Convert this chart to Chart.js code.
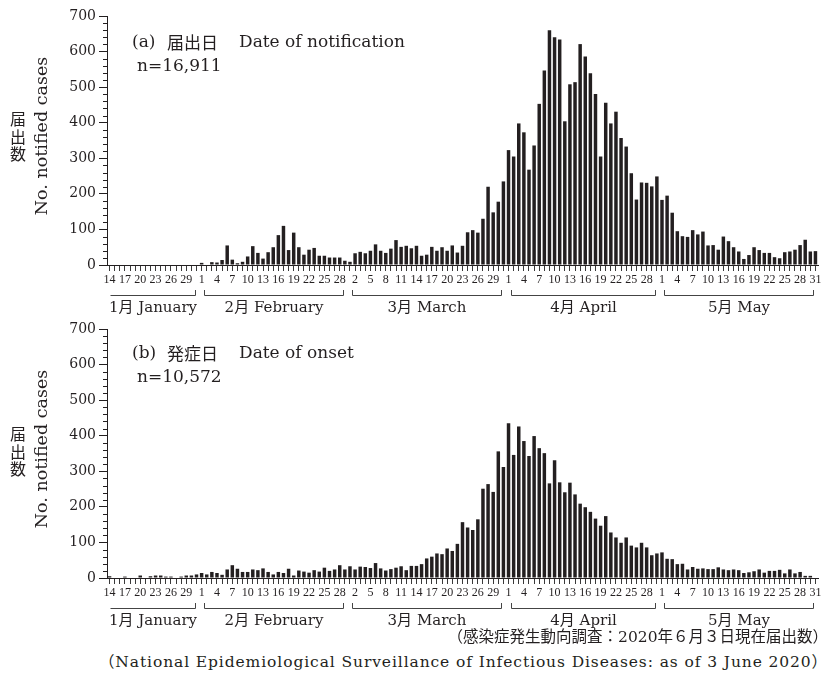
<!DOCTYPE html>
<html><head><meta charset="utf-8">
<script src="https://cdn.jsdelivr.net/npm/chart.js@4.4.1/dist/chart.umd.min.js"></script>
<style>
html,body{margin:0;padding:0;background:#fff;width:822px;height:674px;overflow:hidden;}
.wrap{position:absolute;left:0;width:822px;height:320px;}
#wa{top:0}
#wb{top:313px}
.foot{position:absolute;right:-6px;white-space:nowrap;color:#231f20;font-family:"DejaVu Serif","Noto Sans CJK JP",serif;font-size:15.5px;line-height:20px;}
#f1{top:627px}
#f2{top:652px;letter-spacing:0.9px;}
.yc{position:absolute;left:9px;width:18px;height:18px;text-align:center;color:#231f20;font-family:"Noto Sans CJK JP",sans-serif;font-size:16px;line-height:18px;}
</style></head><body>
<div class="wrap" id="wa"><canvas id="ca" width="822" height="320"></canvas></div>
<div class="wrap" id="wb"><canvas id="cb" width="822" height="320"></canvas></div>
<span class="yc" style="top:109px">届</span>
<span class="yc" style="top:126.5px">出</span>
<span class="yc" style="top:144px">数</span>
<span class="yc" style="top:424px">届</span>
<span class="yc" style="top:441.5px">出</span>
<span class="yc" style="top:459px">数</span>
<div class="foot" id="f1">（感染症発生動向調査：2020年６月３日現在届出数）</div>
<div class="foot" id="f2">（National Epidemiological Surveillance of Infectious Diseases: as of 3 June 2020）</div>
<script>
// ---- categories (day of month) ----
const daysJan = [14,15,16,17,18,19,20,21,22,23,24,25,26,27,28,29,30,31];
const daysFeb = [1,2,3,4,5,6,7,8,9,10,11,12,13,14,15,16,17,18,19,20,21,22,23,24,25,26,27,28,29];
const daysMar = [1,2,3,4,5,6,7,8,9,10,11,12,13,14,15,16,17,18,19,20,21,22,23,24,25,26,27,28,29,30,31];
const daysApr = [1,2,3,4,5,6,7,8,9,10,11,12,13,14,15,16,17,18,19,20,21,22,23,24,25,26,27,28,29,30];
const daysMay = [1,2,3,4,5,6,7,8,9,10,11,12,13,14,15,16,17,18,19,20,21,22,23,24,25,26,27,28,29,30,31];
const monthNames = ['1月 January','2月 February','3月 March','4月 April','5月 May'];

// ---- (a) date of notification ----
const notifJan = [0,0,0,0,0,0,0,0,0,0,0,0,0,0,0,0,0,0];
const notifFeb = [6,0,8,7,14,55,15,5,9,24,53,34,18,36,50,84,110,42,91,50,29,43,48,26,26,21,21,21,12];
const notifMar = [9,33,37,33,40,58,40,34,46,70,51,54,47,54,26,29,51,40,50,40,55,35,54,92,98,91,130,220,148,178,235];
const notifApr = [323,305,398,373,268,336,453,547,660,640,634,404,508,514,621,586,539,481,305,456,398,431,357,333,258,184,232,231,221,249];
const notifMay = [183,195,147,95,81,79,98,86,94,55,56,43,80,67,50,38,17,28,50,42,34,34,22,19,36,38,43,56,71,38,39];

// ---- (b) date of onset ----
const onsetJan = [5,0,0,4,0,0,7,0,5,7,7,4,4,0,4,7,7,10];
const onsetFeb = [14,10,17,14,9,24,36,26,17,17,24,22,27,17,10,17,14,26,7,21,18,15,22,18,29,20,24,36,24];
const onsetMar = [33,24,32,31,28,42,27,21,25,29,33,22,34,34,39,55,60,69,67,83,76,96,157,142,135,165,251,264,242,356,312];
const onsetApr = [435,346,426,385,343,399,365,351,266,331,269,241,268,235,209,199,186,167,147,174,128,114,99,114,91,86,99,86,64,69];
const onsetMay = [72,54,53,39,40,24,31,26,27,25,25,30,24,22,24,22,14,16,19,24,15,20,20,23,13,24,13,17,6,6,0];

const yTickValues = [0,100,200,300,400,500,600,700];

const monthDayLists = [daysJan, daysFeb, daysMar, daysApr, daysMay];
const allDays = [].concat(daysJan, daysFeb, daysMar, daysApr, daysMay).map(String);
const notification = [].concat(notifJan, notifFeb, notifMar, notifApr, notifMay);
const onset = [].concat(onsetJan, onsetFeb, onsetMar, onsetApr, onsetMay);

const INK = '#231f20';
const SERIF = '"DejaVu Serif", "Noto Sans CJK JP", serif';
const CJK = '"Noto Sans CJK JP", sans-serif';

const deco = {
  id: 'deco',
  afterDraw(chart, args, o) {
    const ctx = chart.ctx, xs = chart.scales.x, ys = chart.scales.y, a = chart.chartArea;
    ctx.save();
    ctx.strokeStyle = INK; ctx.lineWidth = 1;
    // minor y ticks every 20
    for (let v = 20; v < 700; v += 20) {
      if (v % 100 === 0) continue;
      const py = Math.round(ys.getPixelForValue(v)) + 0.5;
      ctx.beginPath(); ctx.moveTo(a.left - 4, py); ctx.lineTo(a.left, py); ctx.stroke();
    }
    // month brackets
    ctx.strokeStyle = '#444';
    ctx.fillStyle = INK;
    ctx.font = '15px ' + SERIF;
    ctx.textAlign = 'center'; ctx.textBaseline = 'middle';
    let start = 0;
    monthDayLists.forEach((days, m) => {
      const i0 = start, i1 = start + days.length - 1; start += days.length;
      const x0 = Math.round(xs.getPixelForValue(i0) + (m === 0 ? 0 : 2)) + 0.5;
      const x1 = Math.round(xs.getPixelForValue(i1) - 2) + 0.5;
      const by = a.bottom + 30.5, hy = a.bottom + 25;
      ctx.beginPath();
      if (m > 0) { ctx.moveTo(x0, hy); ctx.lineTo(x0, by); } else { ctx.moveTo(x0, by); }
      ctx.lineTo(x1, by); ctx.lineTo(x1, hy); ctx.stroke();
      ctx.fillText(monthNames[m], (x0 + x1) / 2, a.bottom + 43);
    });
    // y-axis title (rotated)
    ctx.save();
    ctx.translate(42, 136); ctx.rotate(-Math.PI / 2);
    ctx.font = '17.5px ' + SERIF;
    ctx.fillText('No. notified cases', 0, 0);
    ctx.restore();
    // panel title
    ctx.textAlign = 'left';
    ctx.font = '17px ' + SERIF;
    ctx.fillText(o.tag, 132, o.ty);
    ctx.font = '17px ' + CJK;
    ctx.fillText(o.jp, 167, o.ty);
    ctx.font = '17px ' + SERIF;
    ctx.fillText(o.en, 239, o.ty);
    ctx.fillText(o.n, 137, o.ny);
    ctx.restore();
  }
};

function makeChart(id, values, opts) {
  return new Chart(document.getElementById(id), {
    type: 'bar',
    data: { labels: allDays, datasets: [{ data: values, backgroundColor: INK, borderWidth: 0, barPercentage: 0.68, categoryPercentage: 1.0 }] },
    options: {
      responsive: false, animation: false, devicePixelRatio: 1,
      layout: { padding: { left: 0, top: 16, right: 4, bottom: 0 } },
      plugins: { legend: { display: false }, tooltip: { enabled: false }, deco: opts },
      scales: {
        x: {
          type: 'category', offset: true,
          grid: { display: true, drawOnChartArea: false, drawTicks: true, tickLength: 6, offset: false, tickColor: '#3a3a3a', tickWidth: 1 },
          border: { display: true, color: INK, width: 1 },
          ticks: { autoSkip: false, maxRotation: 0, minRotation: 0, padding: 2, color: INK,
                   font: { family: '"Liberation Serif", serif', size: 12 },
                   callback: (v, i) => (i % 3 === 0 ? allDays[i] : '') },
          afterFit: s => { s.height = 55; s.paddingLeft = 0; s.paddingRight = 0; }
        },
        y: {
          min: 0, max: 700,
          afterBuildTicks: s => { s.ticks = yTickValues.map(v => ({ value: v })); },
          ticks: { padding: 3, color: INK, font: { family: '"DejaVu Serif", serif', size: 14 } },
          grid: { drawOnChartArea: false, tickLength: 8, tickColor: INK, tickWidth: 1 },
          border: { display: true, color: INK, width: 1 },
          afterFit: s => { s.width = 107; s.paddingTop = 0; s.paddingBottom = 0; }
        }
      }
    },
    plugins: [deco]
  });
}

makeChart('ca', notification, { tag: '(a)', jp: '届出日', en: 'Date of notification', n: 'n=16,911', ty: 43, ny: 67 });
makeChart('cb', onset, { tag: '(b)', jp: '発症日', en: 'Date of onset', n: 'n=10,572', ty: 41, ny: 64.5 });
</script>
</body></html>
